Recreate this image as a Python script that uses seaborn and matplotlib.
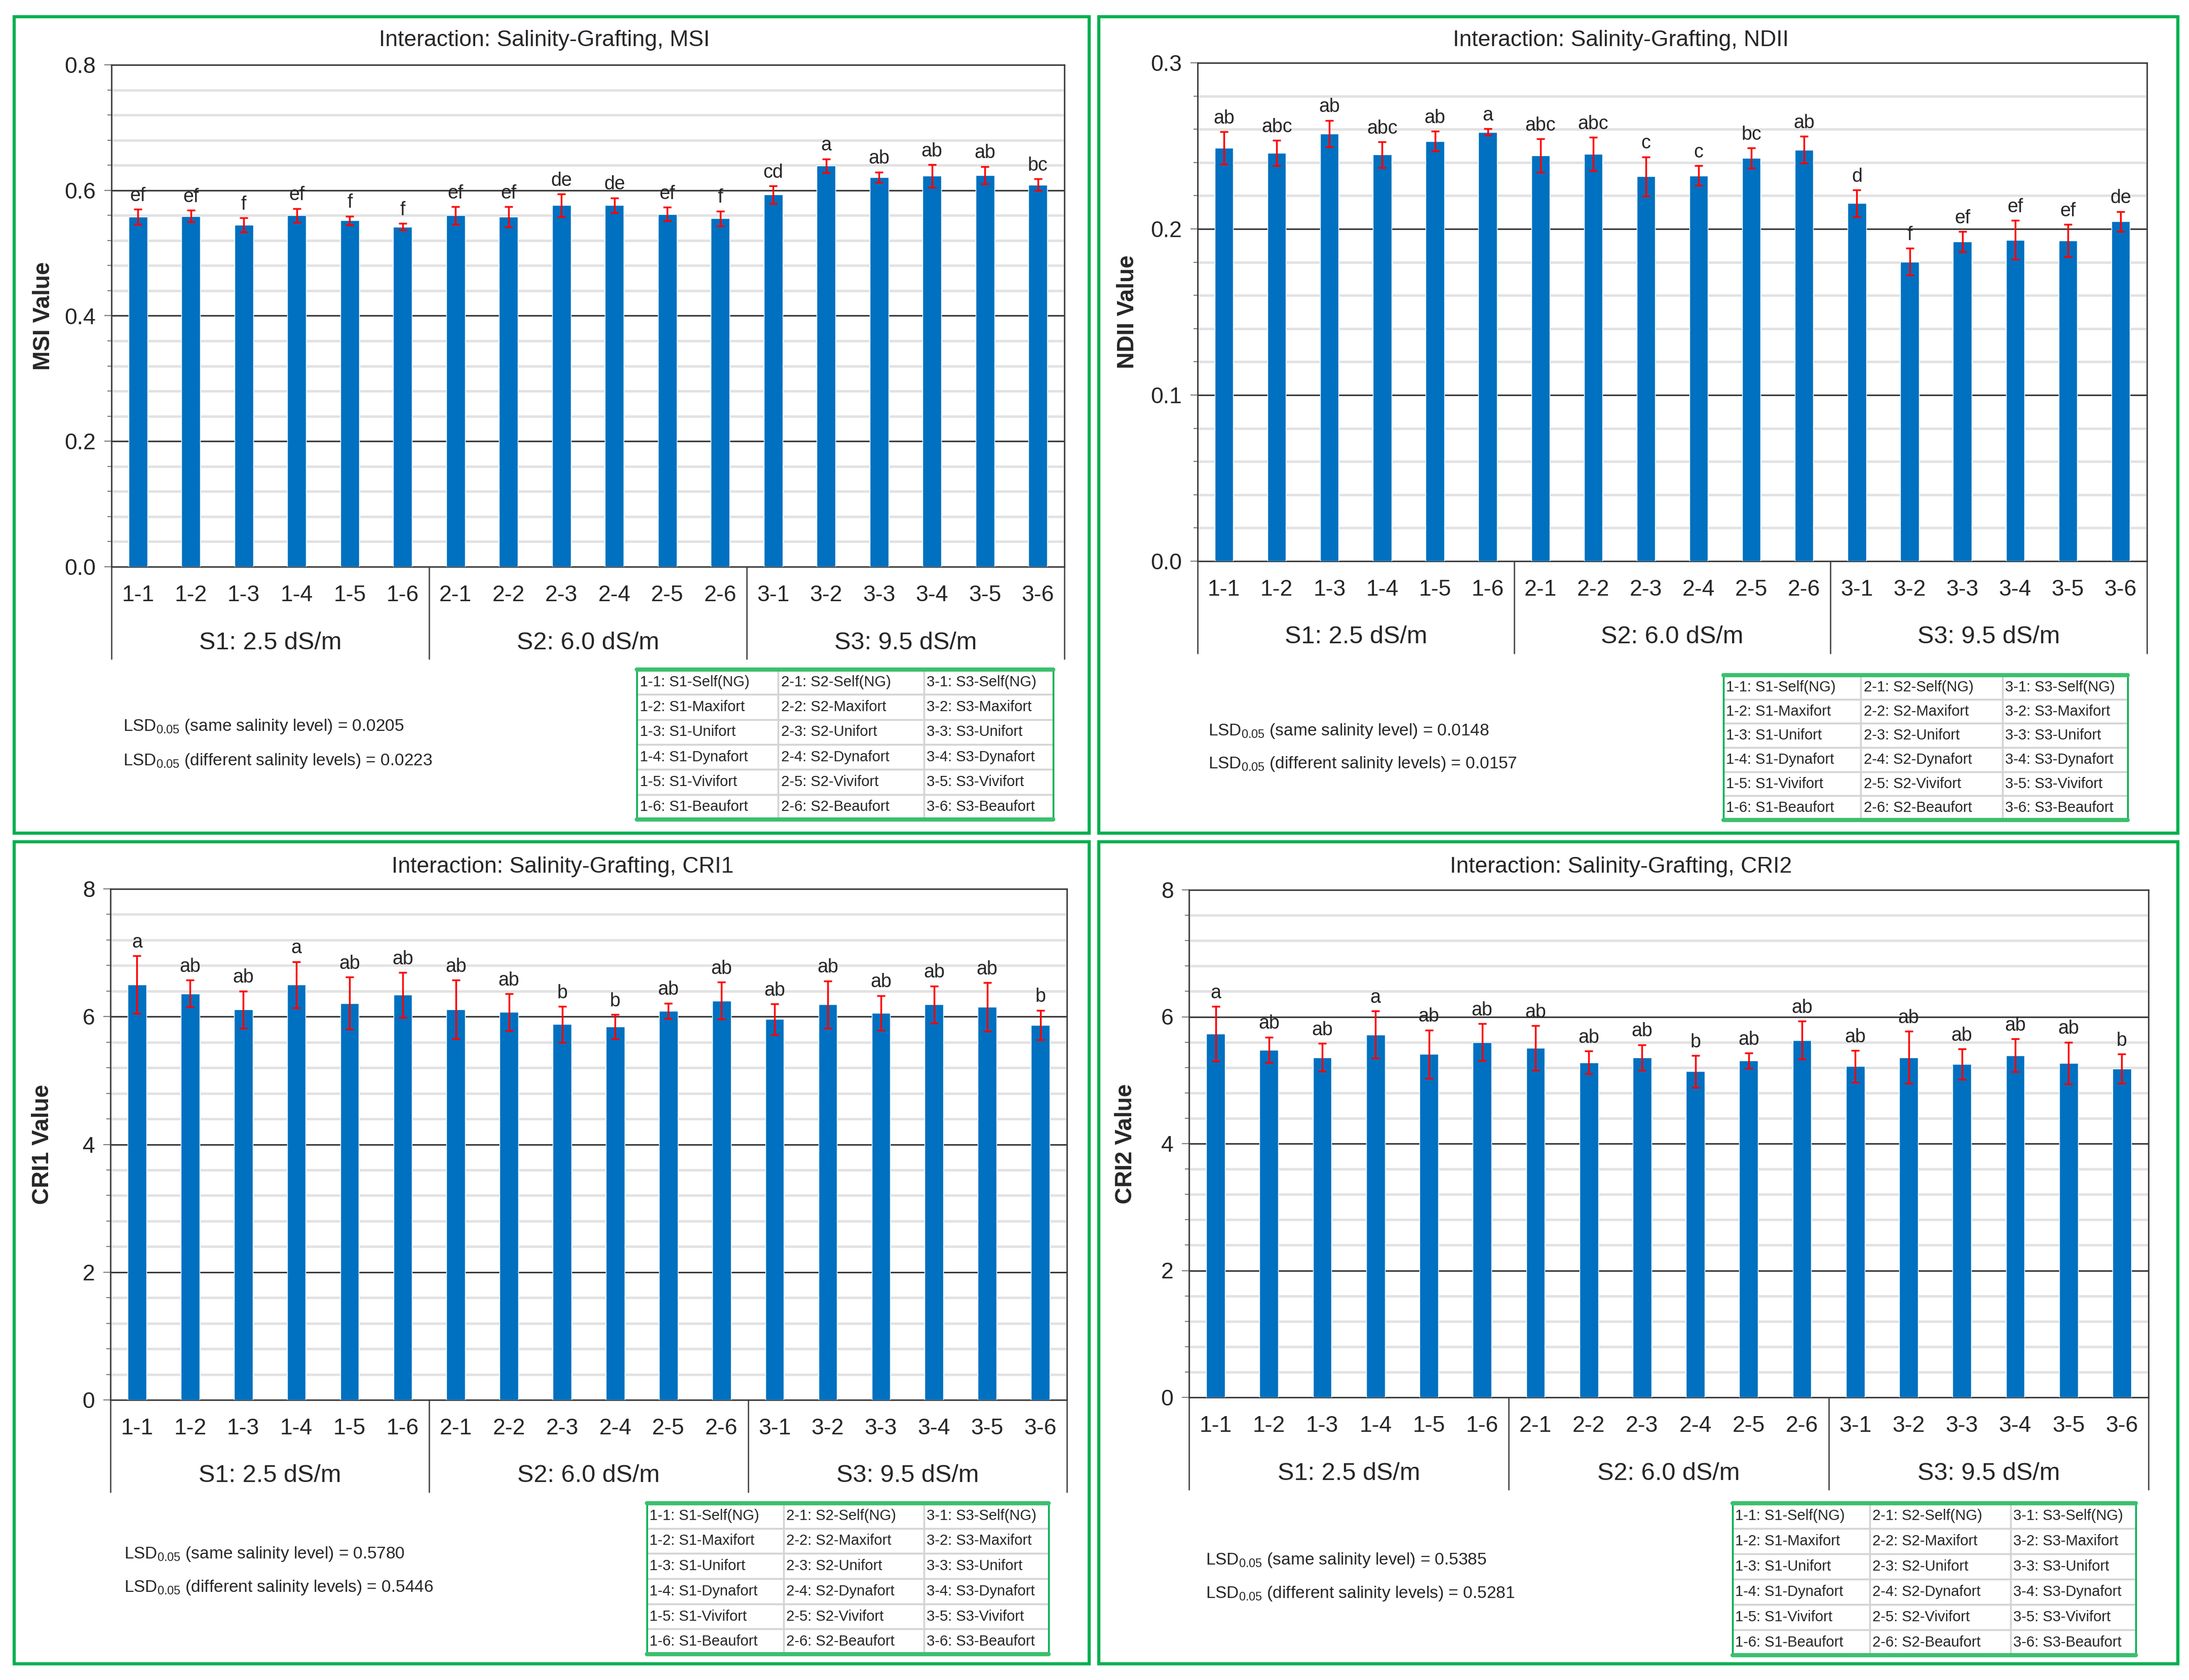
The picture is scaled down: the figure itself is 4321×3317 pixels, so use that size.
import numpy as np
import pandas as pd
import matplotlib
matplotlib.use("Agg")
import matplotlib.pyplot as plt
import matplotlib.transforms as mtransforms
from matplotlib.patches import Rectangle
from matplotlib.ticker import MultipleLocator, FormatStrFormatter
import seaborn as sns

# ---- data ----
codes = ["1-1", "1-2", "1-3", "1-4", "1-5", "1-6",
         "2-1", "2-2", "2-3", "2-4", "2-5", "2-6",
         "3-1", "3-2", "3-3", "3-4", "3-5", "3-6"]
salinity_groups = ["S1: 2.5 dS/m", "S2: 6.0 dS/m", "S3: 9.5 dS/m"]
rootstocks = ["Self(NG)", "Maxifort", "Unifort", "Dynafort", "Vivifort", "Beaufort"]

msi_mean = [0.558, 0.559, 0.545, 0.560, 0.552, 0.542,
            0.560, 0.558, 0.576, 0.576, 0.562, 0.555,
            0.593, 0.639, 0.621, 0.623, 0.624, 0.609]
msi_err = [0.012, 0.009, 0.011, 0.011, 0.007, 0.005,
           0.014, 0.016, 0.018, 0.012, 0.011, 0.012,
           0.014, 0.011, 0.008, 0.018, 0.014, 0.009]
msi_letters = ["ef", "ef", "f", "ef", "f", "f",
               "ef", "ef", "de", "de", "ef", "f",
               "cd", "a", "ab", "ab", "ab", "bc"]

ndii_mean = [0.2487, 0.2457, 0.2573, 0.2447, 0.2528, 0.2583,
             0.2442, 0.2452, 0.2316, 0.2321, 0.2427, 0.2477,
             0.2154, 0.1803, 0.1924, 0.1934, 0.1929, 0.2045]
ndii_err = [0.0097, 0.0077, 0.0080, 0.0077, 0.0060, 0.0020,
            0.0100, 0.0100, 0.0118, 0.0060, 0.0060, 0.0080,
            0.0080, 0.0080, 0.0060, 0.0117, 0.0098, 0.0060]
ndii_letters = ["ab", "abc", "ab", "abc", "ab", "a",
                "abc", "abc", "c", "c", "bc", "ab",
                "d", "f", "ef", "ef", "ef", "de"]

cri1_mean = [6.50, 6.36, 6.11, 6.50, 6.21, 6.34,
             6.11, 6.07, 5.88, 5.84, 6.09, 6.25,
             5.96, 6.19, 6.06, 6.19, 6.15, 5.87]
cri1_err = [0.45, 0.21, 0.29, 0.36, 0.41, 0.35,
            0.46, 0.29, 0.28, 0.19, 0.12, 0.29,
            0.24, 0.37, 0.27, 0.29, 0.38, 0.23]
cri1_letters = ["a", "ab", "ab", "a", "ab", "ab",
                "ab", "ab", "b", "b", "ab", "ab",
                "ab", "ab", "ab", "ab", "ab", "b"]

cri2_mean = [5.73, 5.48, 5.36, 5.72, 5.41, 5.60,
             5.51, 5.28, 5.36, 5.14, 5.31, 5.63,
             5.22, 5.36, 5.25, 5.39, 5.27, 5.18]
cri2_err = [0.43, 0.20, 0.22, 0.37, 0.38, 0.29,
            0.35, 0.18, 0.20, 0.25, 0.12, 0.30,
            0.25, 0.41, 0.24, 0.26, 0.33, 0.23]
cri2_letters = ["a", "ab", "ab", "a", "ab", "ab",
                "ab", "ab", "ab", "b", "ab", "ab",
                "ab", "ab", "ab", "ab", "ab", "b"]

lsd_same = {"MSI": "0.0205", "NDII": "0.0148", "CRI1": "0.5780", "CRI2": "0.5385"}
lsd_diff = {"MSI": "0.0223", "NDII": "0.0157", "CRI1": "0.5446", "CRI2": "0.5281"}

# ---- style ----
sns.set_style("white")
plt.rcParams["font.family"] = ["Liberation Sans", "DejaVu Sans"]
plt.rcParams["mathtext.fontset"] = "custom"
plt.rcParams["mathtext.rm"] = "Liberation Sans"
plt.rcParams["mathtext.it"] = "Liberation Sans"

BLUE = "#0070C0"
GREEN = "#00B050"
W, H = 4321, 3317


def fbox(l, t, r, b):
    return [l / W, 1 - b / H, (r - l) / W, (b - t) / H]


fig = plt.figure(figsize=(W / 100, H / 100), dpi=100)

panels = [
    dict(key="MSI", mean=msi_mean, err=msi_err, letters=msi_letters,
         ylim=(0, 0.8), major=0.2, minor=0.04, fmt="%.1f",
         panel=(28, 33, 2150, 1645), axes=(220, 128, 2101, 1119),
         title_xy=(1075, 80), ylab_x=108, table=(1257, 1322, 2079, 1618),
         lsd_x=243, lsd_y=(1435, 1502)),
    dict(key="NDII", mean=ndii_mean, err=ndii_err, letters=ndii_letters,
         ylim=(0, 0.3), major=0.1, minor=0.02, fmt="%.1f",
         panel=(2169, 33, 4299, 1645), axes=(2364, 124, 4238, 1108),
         title_xy=(3200, 80), ylab_x=2248, table=(3402, 1333, 4200, 1619),
         lsd_x=2385, lsd_y=(1443, 1509)),
    dict(key="CRI1", mean=cri1_mean, err=cri1_err, letters=cri1_letters,
         ylim=(0, 8), major=2, minor=0.4, fmt="%d",
         panel=(28, 1662, 2150, 3285), axes=(218, 1755, 2106, 2764),
         title_xy=(1111, 1712), ylab_x=106, table=(1277, 2968, 2070, 3266),
         lsd_x=245, lsd_y=(3068, 3135)),
    dict(key="CRI2", mean=cri2_mean, err=cri2_err, letters=cri2_letters,
         ylim=(0, 8), major=2, minor=0.4, fmt="%d",
         panel=(2169, 1662, 4299, 3285), axes=(2347, 1757, 4241, 2759),
         title_xy=(3200, 1712), ylab_x=2244, table=(3420, 2968, 4216, 3268),
         lsd_x=2380, lsd_y=(3080, 3147)),
]

legend_rows = [[f"{s}-{i + 1}: S{s}-{name}" for s in (1, 2, 3)]
               for i, name in enumerate(rootstocks)]

for cfg in panels:
    pl, pt, pr, pb = cfg["panel"]
    fig.patches.append(Rectangle((pl / W, 1 - pb / H), (pr - pl) / W, (pb - pt) / H,
                                 transform=fig.transFigure, fill=False,
                                 ec=GREEN, lw=4.5, zorder=10))

    al, at, ar, ab = cfg["axes"]
    axh = ab - at
    ax = fig.add_axes(fbox(al, at, ar, ab))
    df = pd.DataFrame({"code": codes, "value": cfg["mean"]})
    sns.barplot(data=df, x="code", y="value", order=codes, color=BLUE,
                saturation=1, width=0.35, errorbar=None, ax=ax, zorder=3)
    x = np.arange(len(codes))
    ax.errorbar(x, cfg["mean"], yerr=cfg["err"], fmt="none", ecolor="#FF0000",
                elinewidth=2.5, capsize=6, capthick=2.5, zorder=4)
    for i, (m, e, lab) in enumerate(zip(cfg["mean"], cfg["err"], cfg["letters"])):
        ax.annotate(lab, (i, m + e), xytext=(0, 6), textcoords="offset points",
                    ha="center", va="bottom", fontsize=27)

    ax.set_xlim(-0.5, len(codes) - 0.5)
    ax.set_ylim(*cfg["ylim"])
    ax.yaxis.set_major_locator(MultipleLocator(cfg["major"]))
    ax.yaxis.set_minor_locator(MultipleLocator(cfg["minor"]))
    ax.yaxis.set_major_formatter(FormatStrFormatter(cfg["fmt"]))
    ax.grid(axis="y", which="major", color="#3a3a3a", lw=2.2, zorder=0)
    ax.grid(axis="y", which="minor", color="#e2e2e2", lw=3.5, zorder=0)
    ax.set_axisbelow(True)
    for sp in ax.spines.values():
        sp.set_visible(True)
        sp.set_color("#3a3a3a")
        sp.set_linewidth(2)
    ax.tick_params(axis="y", which="major", direction="out", length=10, width=1.5,
                   color="#7f7f7f", labelsize=32, pad=12, left=True)
    ax.tick_params(axis="y", which="minor", direction="out", length=6, width=1.5,
                   color="#7f7f7f", left=True)
    ax.tick_params(axis="x", length=0, labelsize=32, pad=26)
    ax.set_xlabel("")
    ax.set_ylabel(f"{cfg['key']} Value", fontsize=33, fontweight="bold")
    ax.yaxis.set_label_coords((cfg["ylab_x"] - al) / (ar - al), 0.5)

    # two-level category axis: salinity group dividers and labels
    blend = mtransforms.blended_transform_factory(ax.transData, ax.transAxes)
    for xv in (-0.5, 5.5, 11.5, 17.5):
        ax.plot([xv, xv], [0, -182 / axh], transform=blend, color="#3a3a3a",
                lw=1.8, clip_on=False)
    for k, g in enumerate(salinity_groups):
        ax.text(2.5 + 6 * k, -150 / axh, g, transform=blend, ha="center",
                va="center", fontsize=35)

    fig.text(cfg["title_xy"][0] / W, 1 - cfg["title_xy"][1] / H,
             f"Interaction: Salinity-Grafting, {cfg['key']}",
             ha="center", va="center", fontsize=32)

    # LSD notes
    fig.text(cfg["lsd_x"] / W, 1 - cfg["lsd_y"][0] / H,
             f"LSD$_{{0.05}}$ (same salinity level) = {lsd_same[cfg['key']]}",
             ha="left", va="center", fontsize=24)
    fig.text(cfg["lsd_x"] / W, 1 - cfg["lsd_y"][1] / H,
             f"LSD$_{{0.05}}$ (different salinity levels) = {lsd_diff[cfg['key']]}",
             ha="left", va="center", fontsize=24)

    # treatment key table
    tax = fig.add_axes(fbox(*cfg["table"]))
    tax.axis("off")
    tbl = tax.table(cellText=legend_rows, cellLoc="left", bbox=[0, 0, 1, 1],
                    colWidths=[0.34, 0.35, 0.31])
    tbl.auto_set_font_size(False)
    for cell in tbl.get_celld().values():
        cell.set_edgecolor("#d4d4d4")
        cell.set_linewidth(2.5)
        cell.PAD = 0.02
        cell.get_text().set_fontsize(21)
    tax.add_patch(Rectangle((0, 0), 1, 1, transform=tax.transAxes, fill=False,
                            ec=GREEN, lw=2.5, clip_on=False, zorder=5))
    for yv in (0, 1):
        tax.plot([0, 1], [yv, yv], transform=tax.transAxes, color="#3cbf6e",
                 lw=6, clip_on=False, zorder=6)

fig.savefig("out.png", dpi=100, facecolor="white")
